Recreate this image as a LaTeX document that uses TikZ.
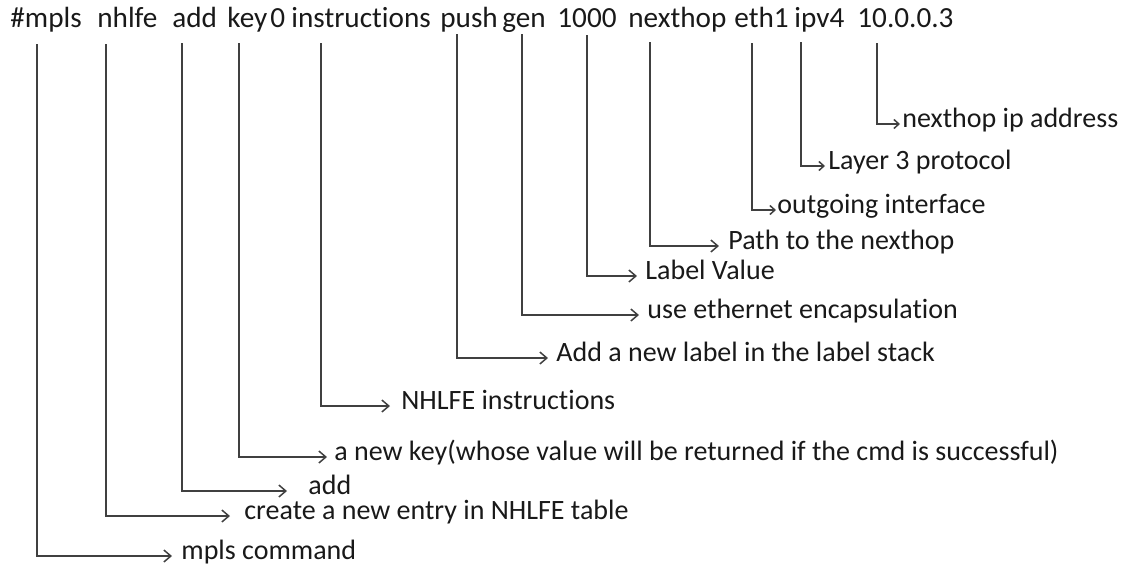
\documentclass[tikz,border=0pt]{standalone}
\usepackage{fontspec}
\setmainfont{Carlito}[Ligatures=NoCommon]
\usepackage{tikz}
\usetikzlibrary{arrows.meta, positioning}

\begin{document}
\begin{tikzpicture}[
    x=0.5pt, y=-0.5pt,
    word/.style={anchor=base west, inner sep=0pt, font=\fontsize{14.6}{18}\selectfont, text=black!90},
    lbl/.style={anchor=west, inner ysep=0pt, inner xsep=4pt, text height=6.5pt, text depth=3pt, font=\fontsize{14}{17}\selectfont, text=black!90},
    arr/.style={-{Straight Barb[length=3.5pt, width=6pt]}, line width=0.75pt, draw=black!75},
    small/.style={-{Straight Barb[length=2.5pt, width=4.5pt]}, line width=0.75pt, draw=black!75}
]
\useasboundingbox (0,0) rectangle (1134,564);

% Command line
\node[word] (wmpls) at (10,27) {\#mpls};
\node[word] (wnhlfe) at (97,27) {nhlfe};
\node[word] (wadd) at (172,27) {add};
\node[word] (wkey) at (227,27) {key};
\node[word] (wzero) at (270,27) {0};
\node[word] (winstr) at (291,27) {instructions};
\node[word] (wpush) at (440,27) {push};
\node[word] (wgen) at (502,27) {gen};
\node[word] (wlabel) at (557,27) {1000};
\node[word] (wnexthop) at (628,27) {nexthop};
\node[word] (weth) at (734,27) {eth1};
\node[word] (wipv) at (794,27) {ipv4};
\node[word] (wip) at (857,27) {10.0.0.3};

% Line tops under the words
\coordinate (cmpls) at (37,44);
\coordinate (cnhlfe) at (106,44);
\coordinate (cadd) at (182,43);
\coordinate (ckey) at (239,43);
\coordinate (cinstr) at (321,43);
\coordinate (cpush) at (457,34);
\coordinate (cgen) at (522,34);
\coordinate (clabel) at (587,35);
\coordinate (cnexthop) at (650,42);
\coordinate (ceth) at (752,43);
\coordinate (cipv) at (801,42);
\coordinate (cip) at (877,43);

% Meanings
\node[lbl, inner xsep=1pt] (lip) at (900,124) {nexthop ip address};
\node[lbl, inner xsep=1.5pt] (lipv) at (825,166) {Layer 3 protocol};
\node[lbl, inner xsep=0.5pt] (leth) at (776,210) {outgoing interface};
\node[lbl, inner xsep=4.5pt] (lnexthop) at (719,246) {Path to the nexthop};
\node[lbl] (llabel) at (637,276) {Label Value};
\node[lbl] (lgen) at (639,315) {use ethernet encapsulation};
\node[lbl] (lpush) at (548,358) {Add a new label in the label stack};
\node[lbl, inner xsep=5.5pt] (linstr) at (390,406) {NHLFE instructions};
\node[lbl, inner xsep=3.5pt] (lkey) at (327,457) {a new key(whose value will be returned if the cmd is successful)};
\node[lbl, inner xsep=10.5pt] (ladd) at (287,491) {add};
\node[lbl, inner xsep=7pt] (lnhlfe) at (230,516) {create a new entry in NHLFE table};
\node[lbl, inner xsep=4.5pt] (lmpls) at (172,556) {mpls command};

% Connectors
\draw[small] (cip) |- (lip.west);
\draw[small] (cipv) |- (lipv.west);
\draw[small] (ceth) |- (leth.west);
\draw[arr] (cnexthop) |- (lnexthop.west);
\draw[arr] (clabel) |- (llabel.west);
\draw[arr] (cgen) |- (lgen.west);
\draw[arr] (cpush) |- (lpush.west);
\draw[arr] (cinstr) |- (linstr.west);
\draw[arr] (ckey) |- (lkey.west);
\draw[arr] (cadd) |- (ladd.west);
\draw[arr] (cnhlfe) |- (lnhlfe.west);
\draw[arr] (cmpls) |- (lmpls.west);

\end{tikzpicture}
\end{document}
